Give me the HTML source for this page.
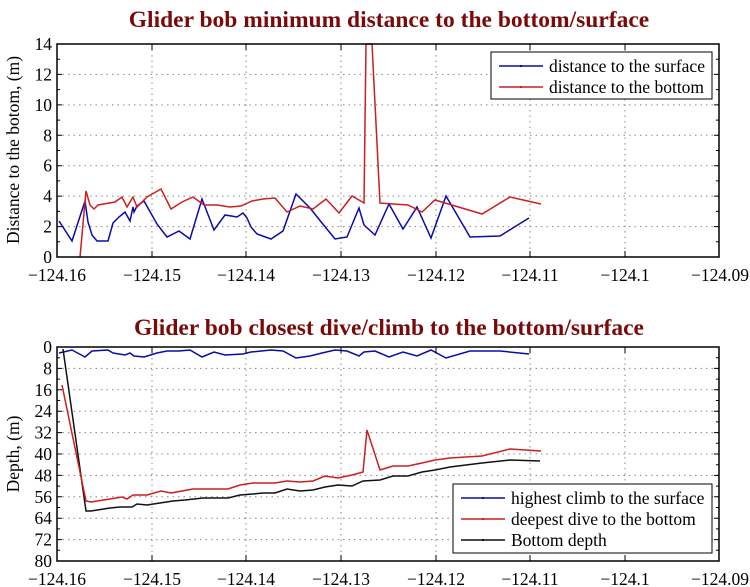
<!DOCTYPE html>
<html><head><meta charset="utf-8"><style>
body{margin:0;background:#fff}
svg{display:block;font-family:"Liberation Serif",serif}
.g{stroke:#888;stroke-width:1;stroke-dasharray:1.5,4}
.t{font-size:17.5px;fill:#000}
.ti{font-size:23.5px;font-weight:bold;fill:#7a0a0a}
</style></head><body>
<svg width="750" height="587" viewBox="0 0 750 587">
<!-- TOP -->
<text class="ti" x="389" y="27" text-anchor="middle">Glider bob minimum distance to the bottom/surface</text>
<g>
<line class="g" x1="57" x2="719" y1="226.6" y2="226.6"/><line class="g" x1="57" x2="719" y1="196.1" y2="196.1"/>
<line class="g" x1="57" x2="719" y1="165.7" y2="165.7"/><line class="g" x1="57" x2="719" y1="135.3" y2="135.3"/>
<line class="g" x1="57" x2="719" y1="104.9" y2="104.9"/><line class="g" x1="57" x2="719" y1="74.4" y2="74.4"/>
<line class="g" x1="152" x2="152" y1="44" y2="257"/><line class="g" x1="246" x2="246" y1="44" y2="257"/>
<line class="g" x1="341" x2="341" y1="44" y2="257"/><line class="g" x1="436" x2="436" y1="44" y2="257"/>
<line class="g" x1="530" x2="530" y1="44" y2="257"/><line class="g" x1="625" x2="625" y1="44" y2="257"/>
</g>
<polyline fill="none" stroke="#0b0baa" stroke-width="1.5" points="59,221 72,241 85,201 88,222 92,235 97,241 108,241 113,223 119,217 125,212 130,221 133,207 134,212 137,206 144,201 157,224 167,237 179,231 190,239 202,199 214,230 225,215 237,217 243,213 247,218 251,227 257,234 271,239 283,231 296,194 310,208 322,223 335,239 347,237 359,208 364,225 375,235 389,204 403,229 417,207 431,238 446,196 470,237 500,236 529,218"/>
<polyline fill="none" stroke="#cc1f1f" stroke-width="1.5" points="80,257 86,191 90,205 94,209 98,205 115,202 122,197 127,207 133,197 137,207 147,197 161,189 171,209 182,202 193,197 204,205 217,205 230,207 241,206 252,201 263,199 275,198 287,212 300,206 313,209 326,199 339,213 352,196 364,203 366,44 372,44 380,203 393,204 408,205 422,212 435,200 482,214 510,197 541,204"/>
<rect x="57" y="44" width="662" height="213" fill="none" stroke="#000" stroke-width="1.5"/>
<g stroke="#000" stroke-width="1">
<path d="M57,257h5M57,226.6h5M57,196.1h5M57,165.7h5M57,135.3h5M57,104.9h5M57,74.4h5M57,44h5M57,241.8h3M57,211.4h3M57,180.9h3M57,150.5h3M57,120.1h3M57,89.6h3M57,59.2h3"/>
<path d="M719,226.6h-5M719,196.1h-5M719,165.7h-5M719,135.3h-5M719,104.9h-5M719,74.4h-5M719,241.8h-3M719,211.4h-3M719,180.9h-3M719,150.5h-3M719,120.1h-3M719,89.6h-3M719,59.2h-3"/>
<path d="M152,257v-6M246,257v-6M341,257v-6M436,257v-6M530,257v-6M625,257v-6M152,44v6M246,44v6M341,44v6M436,44v6M530,44v6M625,44v6"/>
</g>
<g class="t" text-anchor="end">
<text x="52" y="263">0</text><text x="52" y="232.6">2</text><text x="52" y="202.1">4</text><text x="52" y="171.7">6</text><text x="52" y="141.3">8</text><text x="52" y="110.9">10</text><text x="52" y="80.4">12</text><text x="52" y="50">14</text>
</g>
<g class="t" text-anchor="middle">
<text x="57" y="281">−124.16</text><text x="152" y="281">−124.15</text><text x="246" y="281">−124.14</text><text x="341" y="281">−124.13</text><text x="436" y="281">−124.12</text><text x="530" y="281">−124.11</text><text x="625" y="281">−124.1</text><text x="720" y="281">−124.09</text>
</g>
<text class="t" transform="translate(19,150) rotate(-90)" text-anchor="middle">Distance to the botom, (m)</text>
<rect x="491" y="52" width="221" height="47" fill="#fff" stroke="#000" stroke-width="1"/>
<line x1="499" x2="543" y1="66" y2="66" stroke="#0b0baa" stroke-width="1.5"/><rect x="520" y="65" width="2" height="2" fill="#0b0baa"/>
<line x1="499" x2="543" y1="87" y2="87" stroke="#cc1f1f" stroke-width="1.5"/><rect x="520" y="86" width="2" height="2" fill="#cc1f1f"/>
<text class="t" x="549" y="72">distance to the surface</text>
<text class="t" x="549" y="93">distance to the bottom</text>

<!-- BOTTOM -->
<text class="ti" x="389" y="335" text-anchor="middle">Glider bob closest dive/climb to the bottom/surface</text>
<g>
<line class="g" x1="57" x2="719" y1="368.4" y2="368.4"/><line class="g" x1="57" x2="719" y1="389.8" y2="389.8"/>
<line class="g" x1="57" x2="719" y1="411.2" y2="411.2"/><line class="g" x1="57" x2="719" y1="432.6" y2="432.6"/>
<line class="g" x1="57" x2="719" y1="454" y2="454"/><line class="g" x1="57" x2="719" y1="475.4" y2="475.4"/>
<line class="g" x1="57" x2="719" y1="496.8" y2="496.8"/><line class="g" x1="57" x2="719" y1="518.2" y2="518.2"/>
<line class="g" x1="57" x2="719" y1="539.6" y2="539.6"/>
<line class="g" x1="152" x2="152" y1="347" y2="561"/><line class="g" x1="246" x2="246" y1="347" y2="561"/>
<line class="g" x1="341" x2="341" y1="347" y2="561"/><line class="g" x1="436" x2="436" y1="347" y2="561"/>
<line class="g" x1="530" x2="530" y1="347" y2="561"/><line class="g" x1="625" x2="625" y1="347" y2="561"/>
</g>
<polyline fill="none" stroke="#0b0baa" stroke-width="1.5" points="59,353 72,350 85,357 92,351 108,350 113,353 125,355 130,353 134,356 144,357 157,353 167,351 179,351 190,350 202,357 214,352 225,355 243,354 251,352 271,350 283,351 296,358 310,356 322,353 335,350 347,351 359,356 364,352 375,351 389,357 403,352 417,356 431,350 446,358 470,351 500,351 529,354"/>
<polyline fill="none" stroke="#111" stroke-width="1.5" points="63,349 86,511 91,511 110,508 120,507 132,507 137,504 147,505 160,503 173,501 185,500 203,498 217,498 228,498 240,495 253,494 263,493 275,493 287,489 300,491 313,490 325,487 338,485 352,486 363,481 380,480 393,476 408,476 422,472 435,470 450,467 482,463 510,460 540,461"/>
<polyline fill="none" stroke="#cc1f1f" stroke-width="1.5" points="62,385 86,501 91,502 110,499 122,497 127,499 133,495 147,495 161,491 171,493 182,491 193,489 217,489 228,489 240,485 253,483 275,483 287,481 300,482 313,481 325,476 338,478 352,475 363,472 367,430 380,470 393,466 408,466 422,463 435,460 450,458 482,456 510,449 541,451"/>
<rect x="57" y="347" width="662" height="214" fill="none" stroke="#000" stroke-width="1.5"/>
<g stroke="#000" stroke-width="1">
<path d="M57,368.4h5M57,389.8h5M57,411.2h5M57,432.6h5M57,454h5M57,475.4h5M57,496.8h5M57,518.2h5M57,539.6h5M57,357.7h3M57,379.1h3M57,400.5h3M57,421.9h3M57,443.3h3M57,464.7h3M57,486.1h3M57,507.5h3M57,528.9h3M57,550.3h3"/>
<path d="M719,368.4h-5M719,389.8h-5M719,411.2h-5M719,432.6h-5M719,454h-5M719,475.4h-5M719,496.8h-5M719,518.2h-5M719,539.6h-5M719,357.7h-3M719,379.1h-3M719,400.5h-3M719,421.9h-3M719,443.3h-3M719,464.7h-3M719,486.1h-3M719,507.5h-3M719,528.9h-3M719,550.3h-3"/>
<path d="M152,561v-6M246,561v-6M341,561v-6M436,561v-6M530,561v-6M625,561v-6M152,347v6M246,347v6M341,347v6M436,347v6M530,347v6M625,347v6"/>
</g>
<g class="t" text-anchor="end">
<text x="52" y="353">0</text><text x="52" y="374.4">8</text><text x="52" y="395.8">16</text><text x="52" y="417.2">24</text><text x="52" y="438.6">32</text><text x="52" y="460">40</text><text x="52" y="481.4">48</text><text x="52" y="502.8">56</text><text x="52" y="524.2">64</text><text x="52" y="545.6">72</text><text x="52" y="567">80</text>
</g>
<g class="t" text-anchor="middle">
<text x="57" y="585">−124.16</text><text x="152" y="585">−124.15</text><text x="246" y="585">−124.14</text><text x="341" y="585">−124.13</text><text x="436" y="585">−124.12</text><text x="530" y="585">−124.11</text><text x="625" y="585">−124.1</text><text x="720" y="585">−124.09</text>
</g>
<text class="t" transform="translate(19,454) rotate(-90)" text-anchor="middle">Depth, (m)</text>
<rect x="453" y="484" width="259" height="69" fill="#fff" stroke="#000" stroke-width="1"/>
<line x1="461" x2="505" y1="498" y2="498" stroke="#0b0baa" stroke-width="1.5"/><rect x="482" y="497" width="2" height="2" fill="#0b0baa"/>
<line x1="461" x2="505" y1="519" y2="519" stroke="#cc1f1f" stroke-width="1.5"/><rect x="482" y="518" width="2" height="2" fill="#cc1f1f"/>
<line x1="461" x2="505" y1="540" y2="540" stroke="#111" stroke-width="1.5"/><rect x="482" y="539" width="2" height="2" fill="#111"/>
<text class="t" x="511" y="504">highest climb to the surface</text>
<text class="t" x="511" y="525">deepest dive to the bottom</text>
<text class="t" x="511" y="546">Bottom depth</text>
</svg>
</body></html>
